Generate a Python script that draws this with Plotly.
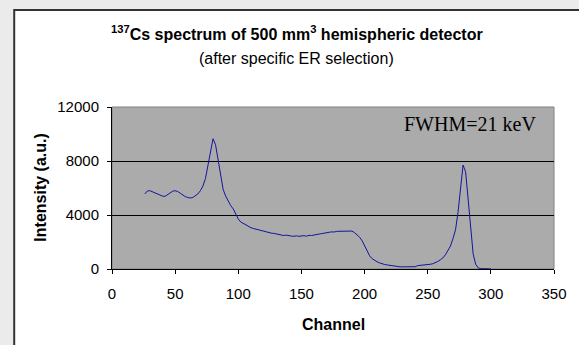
import plotly.graph_objects as go

# ---- data ----
channels = [26, 28, 30, 32, 34, 36, 38, 40, 42, 44, 46, 48, 50, 52, 54, 56, 58, 60, 62, 64,
            66, 68, 70, 72, 74, 76, 78, 80, 82, 84, 86, 88, 90, 92, 94, 96, 98, 100, 102, 104,
            106, 108, 110, 112, 114, 116, 118, 120, 122, 124, 126, 128, 130, 132, 134, 136, 138,
            140, 142, 144, 146, 148, 150, 152, 154, 156, 158, 160, 162, 164, 166, 168, 170, 172,
            174, 176, 178, 180, 182, 184, 186, 188, 190, 192, 194, 196, 198, 200, 202, 204, 206,
            208, 210, 212, 214, 216, 218, 220, 222, 224, 226, 228, 230, 232, 234, 236, 238, 240,
            242, 244, 246, 248, 250, 252, 254, 256, 258, 260, 262, 264, 266, 268, 270, 272, 274,
            276, 278, 280, 282, 284, 286, 288, 290, 292, 294, 296, 298, 300]
intensity = [5560, 5780, 5800, 5720, 5650, 5560, 5470, 5400, 5380, 5500, 5640, 5760, 5800, 5740,
             5620, 5480, 5360, 5300, 5260, 5300, 5420, 5560, 5800, 6150, 6700, 7600, 8600, 9650,
             9200, 8100, 6800, 5900, 5400, 5000, 4700, 4450, 4050, 3700, 3480, 3360, 3250, 3140,
             3060, 3000, 2950, 2880, 2860, 2780, 2740, 2720, 2660, 2640, 2590, 2560, 2530, 2480,
             2510, 2450, 2440, 2420, 2460, 2420, 2440, 2470, 2430, 2500, 2480, 2530, 2560, 2590,
             2620, 2670, 2690, 2720, 2750, 2740, 2790, 2800, 2780, 2830, 2840, 2850, 2810, 2700,
             2560, 2360, 2100, 1700, 1300, 980, 760, 620, 530, 450, 380, 330, 300, 270, 230, 190,
             170, 160, 160, 160, 160, 165, 165, 170, 250, 260, 270, 290, 310, 350, 390, 450, 560,
             680, 820, 1050, 1350, 1700, 2250, 2900, 4200, 5900, 7700, 7200, 5000, 2800, 1100,
             350, 80, 30, 20, 10, 10, 10]
x_ticks = [0, 50, 100, 150, 200, 250, 300, 350]
x_tick_labels = ["0", "50", "100", "150", "200", "250", "300", "350"]
y_ticks = [0, 4000, 8000, 12000]
y_tick_labels = ["0", "4000", "8000", "12000"]

title_text = "<b><sup>137</sup>Cs spectrum of 500 mm<sup>3</sup> hemispheric detector</b>"
subtitle_text = "(after specific ER selection)"
fwhm_text = "FWHM=21 keV"

# ---- geometry (pixels) ----
W, H = 579, 345
L, R, T, B = 112, 564, 107, 269
pw, ph = R - L, B - T

def px(xp):
    return (xp - L) / pw

def py(yp):
    return (B - yp) / ph

fig = go.Figure()
fig.add_trace(go.Scatter(x=channels, y=intensity, mode="lines",
                         line=dict(color="#1414a0", width=1), hoverinfo="skip"))

fig.update_layout(
    width=W, height=H,
    margin=dict(l=L, r=W - R, t=T, b=H - B, pad=0),
    paper_bgcolor="#ebebeb",
    plot_bgcolor="rgba(0,0,0,0)",
    showlegend=False,
    font=dict(family="Arial, Liberation Sans, sans-serif", size=15, color="black"),
    xaxis=dict(range=[0, 350], tickvals=x_ticks, ticktext=x_tick_labels, ticks="outside",
               ticklen=4, tickcolor="black",
               showline=True, linecolor="black", linewidth=1, showgrid=False, zeroline=False,
               ticklabelstandoff=7, tickfont=dict(size=15)),
    yaxis=dict(range=[0, 12000], tickvals=y_ticks, ticktext=y_tick_labels, ticks="outside",
               ticklen=4, tickcolor="black",
               showline=True, linecolor="black", linewidth=1, showgrid=True, gridcolor="black",
               gridwidth=1, zeroline=False, ticklabelstandoff=5, tickfont=dict(size=15)),
    shapes=[
        dict(type="rect", xref="paper", yref="paper", x0=px(12), x1=px(595), y0=py(360), y1=py(10),
             fillcolor="white", line=dict(color="#333333", width=2), layer="below"),
        dict(type="rect", xref="paper", yref="paper", x0=0, x1=1, y0=0, y1=1,
             fillcolor="#ababab", line=dict(color="#808080", width=1), layer="below"),
    ],
    annotations=[
        dict(text=title_text, xref="paper", yref="paper", x=px(301), y=py(33), showarrow=False,
             xanchor="center", yanchor="middle", font=dict(size=16)),
        dict(text=subtitle_text, xref="paper", yref="paper", x=px(301), y=py(58), showarrow=False,
             xanchor="center", yanchor="middle", font=dict(size=16)),
        dict(text="<b>Channel</b>", xref="paper", yref="paper", x=0.5, y=py(324), showarrow=False,
             xanchor="center", yanchor="middle", font=dict(size=16)),
        dict(text="<b>Intensity (a.u.)</b>", xref="paper", yref="paper", x=px(38), y=0.5,
             showarrow=False, textangle=-90, xanchor="center", yanchor="middle",
             font=dict(size=16)),
        dict(text=fwhm_text, xref="paper", yref="paper", x=px(548), y=py(124), showarrow=False,
             xanchor="right", yanchor="middle",
             font=dict(family="Liberation Serif, Times New Roman, serif", size=20)),
    ],
)

fig.write_html("out.html")
